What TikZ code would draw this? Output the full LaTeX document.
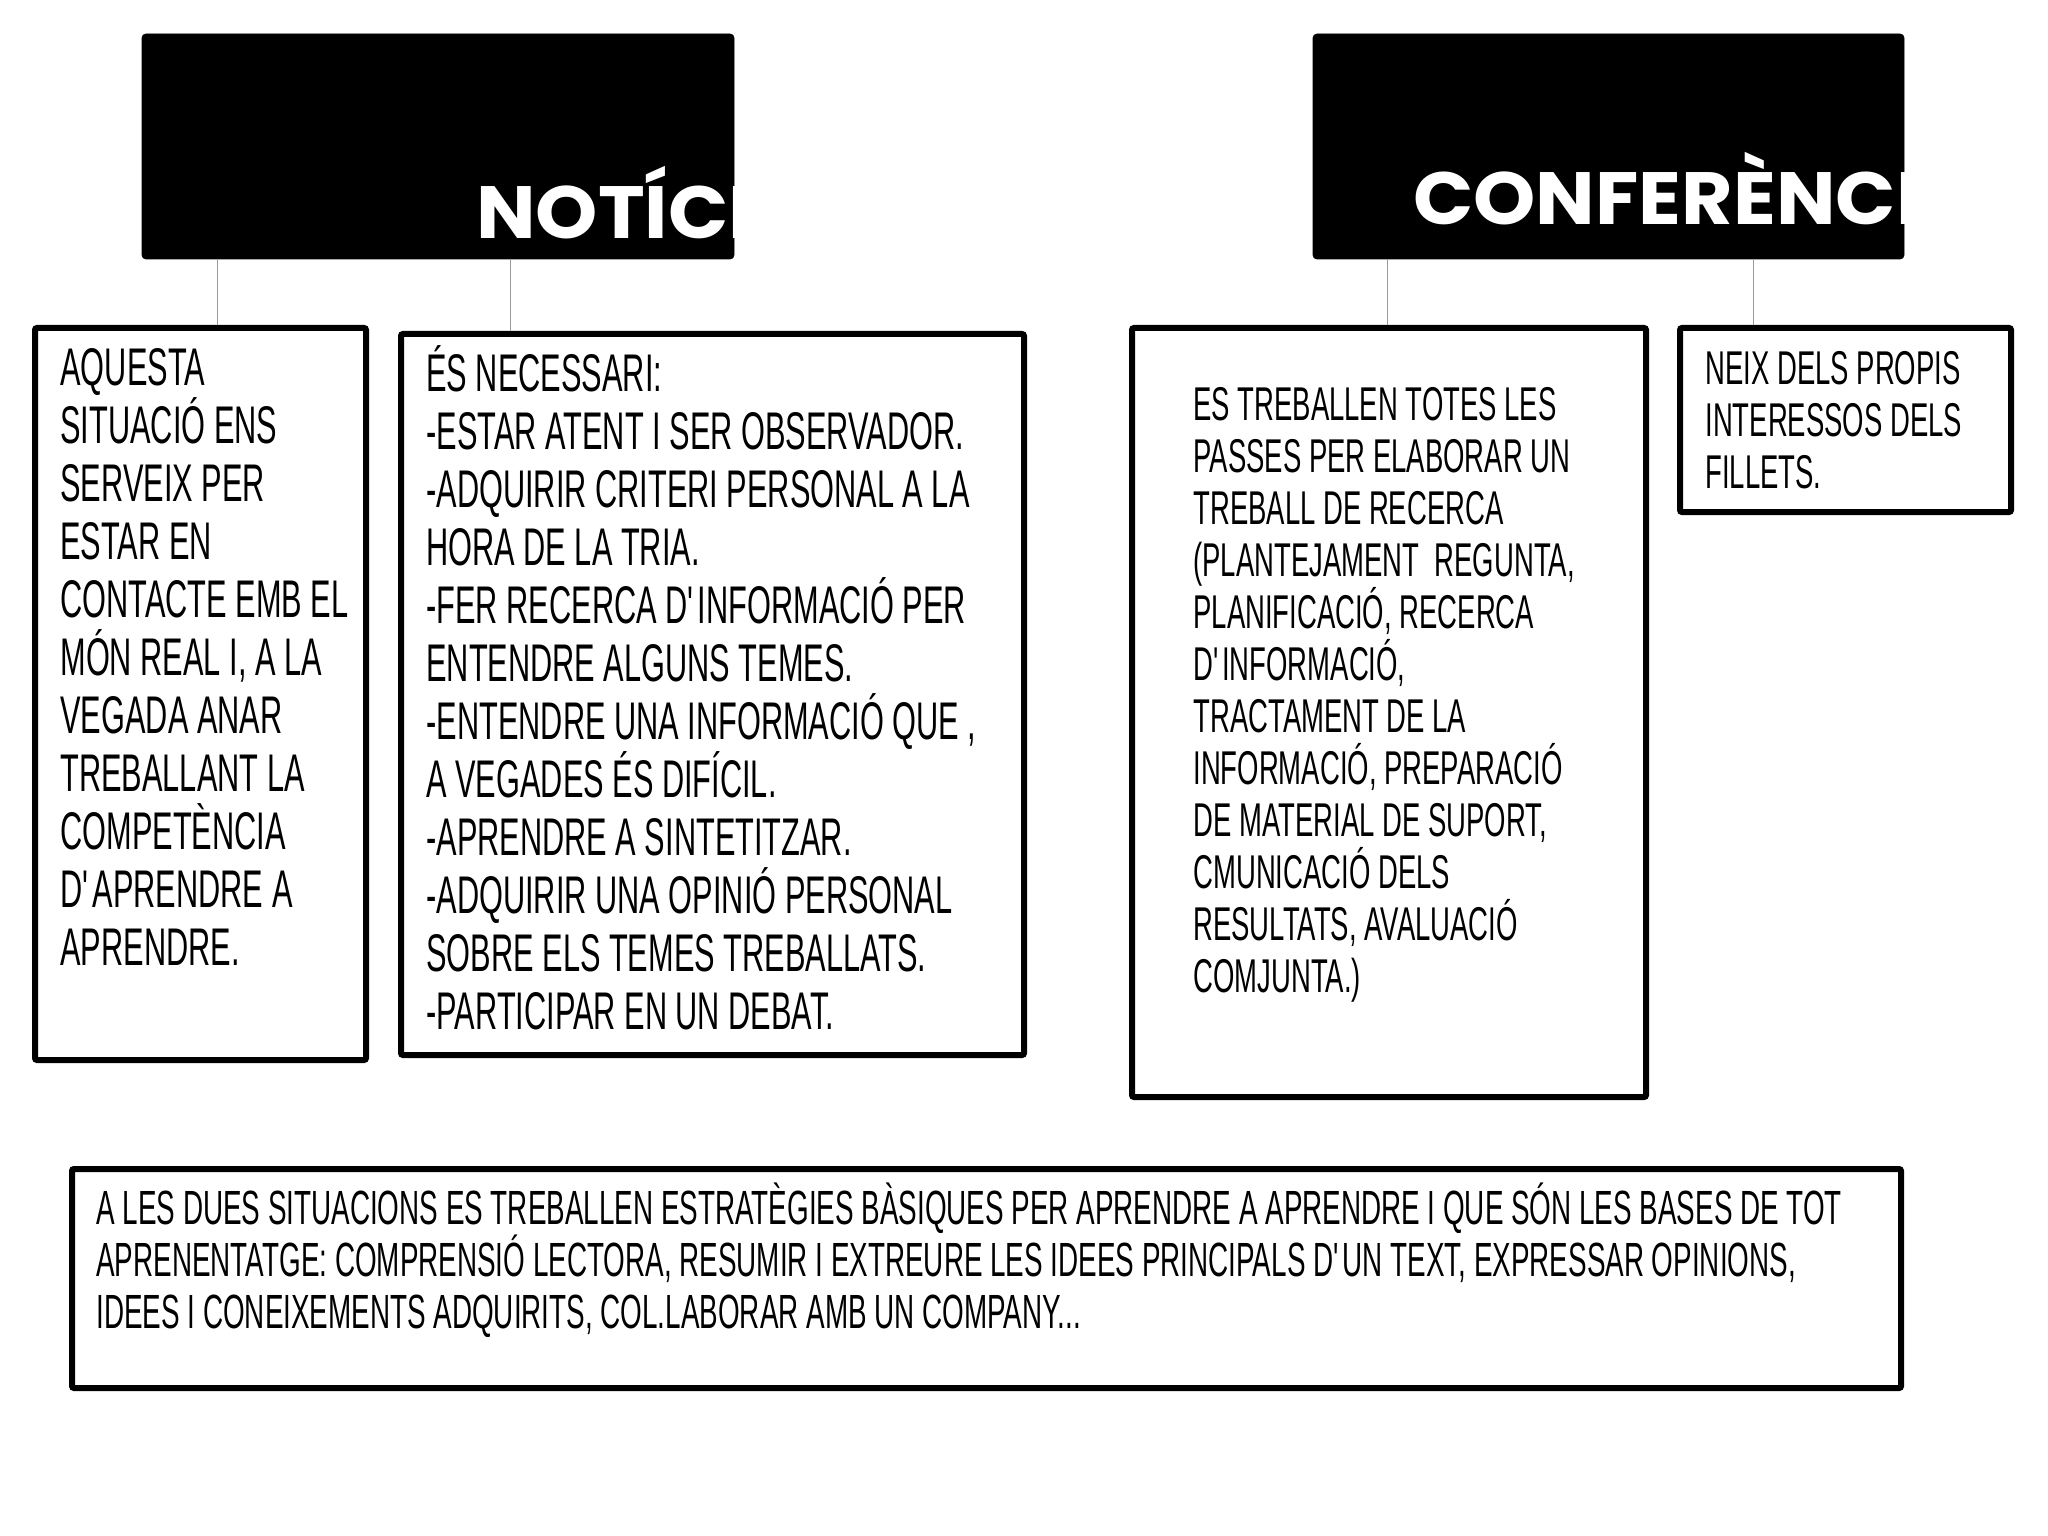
\documentclass[tikz,border=0pt]{standalone}
\usepackage{fontspec}
\setmainfont[FakeStretch=0.58]{Liberation Sans}
\newfontfamily\titlefont[FakeStretch=1.07]{Poppins}
\usetikzlibrary{positioning, fit}
\tikzstyle{header} = [rectangle, rounded corners=2pt, draw=black, fill=black, inner sep=0pt]
\tikzstyle{infobox} = [rectangle, rounded corners=1pt, draw=black, line width=3pt, inner sep=0pt]
\tikzstyle{link} = [draw=black!40, line width=0.7pt]
\tikzstyle{boxtext} = [align=left, inner sep=0pt, anchor=base west, font=\fontsize{26.5}{29}\selectfont] % base = last line
\tikzstyle{smalltext} = [boxtext, font=\fontsize{23.7}{26}\selectfont]
\tikzstyle{title} = [anchor=base west, inner sep=0pt, text=white, font=\titlefont\bfseries\fontsize{37}{37}\selectfont]

\begin{document}
\begin{tikzpicture}[x=0.5pt, y=-0.5pt]
\useasboundingbox (0,0) rectangle (2048,1535);
\node (hdrL) [header, fit={(142,34) (734,259)}] {};
\node (hdrR) [header, fit={(1313,34) (1904,259)}] {};
% titles are cut off by the black boxes
\begin{scope}
\clip (hdrL.south west) rectangle (hdrL.north east);
\node (ttlL) [title] at (476,239) {NOTÍCIA};
\end{scope}
\begin{scope}
\clip (hdrR.south west) rectangle (hdrR.north east);
\node (ttlR) [title] at (1413,225) {CONFERÈNCIA};
\end{scope}

\node (boxA) [infobox, fit={(35,328) (366,1060)}] {};
\node (boxB) [infobox, fit={(401,334) (1024,1055)}] {};
\node (boxC) [infobox, fit={(1132,328) (1646,1097)}] {};
\node (boxD) [infobox, fit={(1680,328) (2011,512)}] {};
\node (boxE) [infobox, fit={(72,1169) (1901,1388)}] {};

\node (txtA) [boxtext] at ([shift={(28,640)}]boxA.north west) {AQUESTA\\SITUACIÓ ENS\\SERVEIX PER\\ESTAR EN\\CONTACTE EMB EL\\MÓN REAL I, A LA\\VEGADA ANAR\\TREBALLANT LA\\COMPETÈNCIA\\D\textquotesingle APRENDRE A\\APRENDRE.};
\node (txtB) [boxtext] at ([shift={(28,698)}]boxB.north west) {ÉS NECESSARI:\\-ESTAR ATENT I SER OBSERVADOR.\\-ADQUIRIR CRITERI PERSONAL A LA\\HORA DE LA TRIA.\\-FER RECERCA D\textquotesingle INFORMACIÓ PER\\ENTENDRE ALGUNS TEMES.\\-ENTENDRE UNA INFORMACIÓ QUE ,\\A VEGADES ÉS DIFÍCIL.\\-APRENDRE A SINTETITZAR.\\-ADQUIRIR UNA OPINIÓ PERSONAL\\SOBRE ELS TEMES TREBALLATS.\\-PARTICIPAR EN UN DEBAT.};
\node (txtC) [smalltext] at ([shift={(64,667)}]boxC.north west) {ES TREBALLEN TOTES LES\\PASSES PER ELABORAR UN\\TREBALL DE RECERCA\\(PLANTEJAMENT\ \ REGUNTA,\\PLANIFICACIÓ, RECERCA\\D\textquotesingle INFORMACIÓ,\\TRACTAMENT DE LA\\INFORMACIÓ, PREPARACIÓ\\DE MATERIAL DE SUPORT,\\CMUNICACIÓ DELS\\RESULTATS, AVALUACIÓ\\COMJUNTA.)};
\node (txtD) [smalltext] at ([shift={(28,163)}]boxD.north west) {NEIX DELS PROPIS\\INTERESSOS DELS\\FILLETS.};
\node (txtE) [boxtext, font=\fontsize{24}{25.8}\selectfont] at ([shift={(27,162)}]boxE.north west) {A LES DUES SITUACIONS ES TREBALLEN ESTRATÈGIES BÀSIQUES PER APRENDRE A APRENDRE I QUE SÓN LES BASES DE TOT\\APRENENTATGE: COMPRENSIÓ LECTORA, RESUMIR I EXTREURE LES IDEES PRINCIPALS D\textquotesingle UN TEXT, EXPRESSAR OPINIONS,\\IDEES I CONEIXEMENTS ADQUIRITS, COL.LABORAR AMB UN COMPANY...};

\draw [link] ([shift={(76,0)}]hdrL.south west) -- ([shift={(76,0)}]hdrL.south west |- boxA.north);
\draw [link] ([shift={(369,0)}]hdrL.south west) -- ([shift={(369,0)}]hdrL.south west |- boxB.north);
\draw [link] ([shift={(75,0)}]hdrR.south west) -- ([shift={(75,0)}]hdrR.south west |- boxC.north);
\draw [link] ([shift={(441,0)}]hdrR.south west) -- ([shift={(441,0)}]hdrR.south west |- boxD.north);
\end{tikzpicture}
\end{document}
